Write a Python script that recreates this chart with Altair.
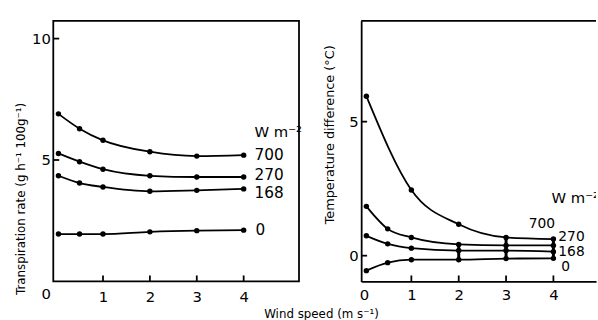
import altair as alt
import pandas as pd

FONT = "DejaVu Sans"

# ---- data ----
x_left = [0.05, 0.5, 1, 2, 3, 4]
left_700 = [6.9, 6.29, 5.81, 5.34, 5.16, 5.2]
left_270 = [5.27, 4.93, 4.62, 4.35, 4.3, 4.3]
left_168 = [4.35, 4.05, 3.89, 3.71, 3.75, 3.81]
left_0 = [1.95, 1.95, 1.95, 2.04, 2.09, 2.11]

x_right = [0.05, 0.5, 1, 2, 3, 4]
x_right_700 = [0.05, 1, 2, 3, 4]
right_700 = [5.95, 2.45, 1.17, 0.68, 0.62]
right_270 = [1.84, 1.0, 0.68, 0.42, 0.38, 0.38]
right_168 = [0.74, 0.44, 0.28, 0.19, 0.19, 0.15]
right_0 = [-0.56, -0.26, -0.15, -0.15, -0.11, -0.1]

series_names = ["700", "270", "168", "0"]
x_tick_values = [1, 2, 3, 4]
left_y_ticks = [5, 10]
right_y_ticks = [0, 5]
bar_x = [2, 3, 4]
unit_label = "W m⁻²"

left_x_domain = [-0.06, 5.18]
left_y_domain = [0, 10.73]
right_x_domain = [-0.06, 4.9]
right_y_domain = [-0.96, 8.76]

RULE_COLOR = "black"


def long_df(xs_list, ys_list):
    rows = []
    for name, xs, ys in zip(series_names, xs_list, ys_list):
        for xv, yv in zip(xs, ys):
            rows.append({"x": xv, "y": yv, "s": name})
    return pd.DataFrame(rows)


dfL = long_df([x_left] * 4, [left_700, left_270, left_168, left_0])
dfR = long_df([x_right_700, x_right, x_right, x_right], [right_700, right_270, right_168, right_0])

H = 264
WL = 249
WR = 238
LW = 1.8

axis_common = dict(grid=False, labelFont=FONT, labelFontSize=15, labelColor="black",
                   titleFont=FONT, titleColor="black", titleFontWeight="normal",
                   labelFlush=False, labelOverlap=False)

# ---------------- left panel ----------------
xsL = alt.Scale(domain=left_x_domain, nice=False, zero=False)
ysL = alt.Scale(domain=left_y_domain, nice=False, zero=False)

xaxL = alt.Axis(values=x_tick_values, title=None, ticks=False, domain=False, labelPadding=8, **axis_common)
yaxL = alt.Axis(values=[0] + left_y_ticks, title="Transpiration rate (g h⁻¹ 100g⁻¹)", ticks=False,
                domain=False, labelPadding=3, titleFontSize=12, titleX=-33, titleY=180,
                titleBaseline="middle",
                labelOffset={"condition": {"test": "datum.value === 0", "value": 12}, "value": 0},
                **axis_common)

baseL = alt.Chart(dfL)
linesL = baseL.mark_line(color="black", strokeWidth=LW, interpolate="monotone").encode(
    x=alt.X("x:Q", scale=xsL, axis=xaxL),
    y=alt.Y("y:Q", scale=ysL, axis=yaxL),
    detail="s:N",
)
ptsL = baseL.mark_circle(color="black", size=30, opacity=1).encode(x="x:Q", y="y:Q")

tickxL = alt.Chart(pd.DataFrame({"x": x_tick_values})).mark_rule(color=RULE_COLOR, strokeWidth=1.8).encode(
    x="x:Q", y=alt.value(H), y2=alt.value(H - 6))
tickyL = alt.Chart(pd.DataFrame({"y": left_y_ticks})).mark_rule(color=RULE_COLOR, strokeWidth=1.8).encode(
    y="y:Q", x=alt.value(0), x2=alt.value(6))

left_label_offsets = {"700": (11, 0), "270": (11, -2), "168": (11, 4), "0": (12, 0)}
labL_layers = []
endsL = {n: (x_left[-1], ys[-1]) for n, ys in zip(series_names, [left_700, left_270, left_168, left_0])}
for n in series_names:
    dx, dy = left_label_offsets[n]
    d = pd.DataFrame({"x": [endsL[n][0]], "y": [endsL[n][1]], "t": [n]})
    labL_layers.append(alt.Chart(d).mark_text(align="left", baseline="middle", fontSize=15.5, font=FONT,
                                              color="black", dx=dx, dy=dy).encode(x="x:Q", y="y:Q", text="t:N"))
dU = pd.DataFrame({"x": [endsL["700"][0]], "y": [endsL["700"][1]], "t": [unit_label]})
labL_layers.append(alt.Chart(dU).mark_text(align="left", baseline="middle", fontSize=15, font=FONT,
                                           color="black", dx=11, dy=-23).encode(x="x:Q", y="y:Q", text="t:N"))

left = alt.layer(linesL, ptsL, tickxL, tickyL, *labL_layers).properties(
    width=WL, height=H, view=alt.ViewBackground(stroke="black", strokeWidth=1.8))

# ---------------- right panel ----------------
xsR = alt.Scale(domain=right_x_domain, nice=False, zero=False)
ysR = alt.Scale(domain=right_y_domain, nice=False, zero=False)

xaxR = alt.Axis(values=[0] + x_tick_values, title=None, ticks=False, domain=True, domainColor="black",
                domainWidth=1.8, labelPadding=6, **axis_common)
yaxR = alt.Axis(values=right_y_ticks, title="Temperature difference (°C)", ticks=False, domain=True,
                domainColor="black", domainWidth=1.8, labelPadding=3, titleFontSize=13,
                titleX=-32, titleY=115, titleBaseline="middle", **axis_common)

baseR = alt.Chart(dfR)
linesR = baseR.mark_line(color="black", strokeWidth=LW, interpolate="monotone").encode(
    x=alt.X("x:Q", scale=xsR, axis=xaxR),
    y=alt.Y("y:Q", scale=ysR, axis=yaxR),
    detail="s:N",
)
ptsR = baseR.mark_circle(color="black", size=30, opacity=1).encode(x="x:Q", y="y:Q")

# vertical bars where the curves crowd together
bar_rows = []
for xb in bar_x:
    lo = right_0[x_right.index(xb)]
    hi = right_270[x_right.index(xb)] if xb == 2 else right_700[x_right_700.index(xb)]
    bar_rows.append({"x": xb, "y": lo, "y2": hi})
barsR = alt.Chart(pd.DataFrame(bar_rows)).mark_rule(color=RULE_COLOR, strokeWidth=3).encode(
    x="x:Q", y="y:Q", y2="y2:Q")

tickxR = alt.Chart(pd.DataFrame({"x": x_tick_values})).mark_rule(color=RULE_COLOR, strokeWidth=1.8).encode(
    x="x:Q", y=alt.value(H), y2=alt.value(H - 6))
tickyR = alt.Chart(pd.DataFrame({"y": right_y_ticks})).mark_rule(color=RULE_COLOR, strokeWidth=1.8).encode(
    y="y:Q", x=alt.value(0), x2=alt.value(6))
# top edge of the frame (its right edge is cut off in the reference)
topR = alt.Chart(pd.DataFrame({"y": [right_y_domain[1]]})).mark_rule(color=RULE_COLOR, strokeWidth=2).encode(
    y="y:Q")

endsR = {"700": (x_right_700[-1], right_700[-1]), "270": (x_right[-1], right_270[-1]),
         "168": (x_right[-1], right_168[-1]), "0": (x_right[-1], right_0[-1])}
right_label_offsets = {"700": (-25, -15), "270": (5, -9), "168": (5, 0), "0": (8, 9)}
labR_layers = []
for n in series_names:
    dx, dy = right_label_offsets[n]
    d = pd.DataFrame({"x": [endsR[n][0]], "y": [endsR[n][1]], "t": [n]})
    labR_layers.append(alt.Chart(d).mark_text(align="left", baseline="middle", fontSize=14, font=FONT,
                                              color="black", dx=dx, dy=dy, clip=True).encode(
        x="x:Q", y="y:Q", text="t:N"))
dU2 = pd.DataFrame({"x": [endsR["700"][0]], "y": [endsR["700"][1]], "t": [unit_label]})
labR_layers.append(alt.Chart(dU2).mark_text(align="left", baseline="middle", fontSize=15, font=FONT,
                                            color="black", dx=-2, dy=-42, clip=True).encode(
    x="x:Q", y="y:Q", text="t:N"))

right = alt.layer(linesR, ptsR, barsR, tickxR, tickyR, topR, *labR_layers).properties(
    width=WR, height=H, view=alt.ViewBackground(stroke="transparent"))

chart = alt.hconcat(left, right, spacing=20).properties(
    padding={"left": 14, "top": 17, "right": 0, "bottom": 0},
    title=alt.TitleParams("Wind speed (m s⁻¹)", orient="bottom", anchor="middle", fontSize=12,
                          fontWeight="normal", font=FONT, color="black", offset=4, dx=16),
).configure(background="white")

chart.save("out.html", embed_options={"renderer": "svg", "actions": False})
